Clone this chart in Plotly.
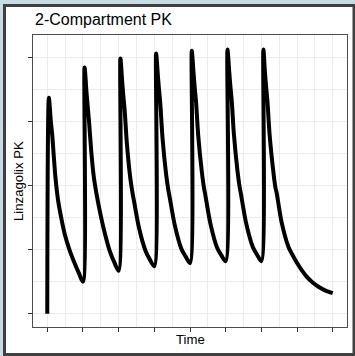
import plotly.graph_objects as go

# Simulated plasma concentration for seven once-daily doses followed by washout
time_days = [
    0.0, 0.045, 0.10, 0.14, 0.17, 0.23, 0.30, 0.39, 0.49, 0.62, 0.75, 0.88,
    1.0, 1.045, 1.10, 1.135, 1.17, 1.23, 1.30, 1.376, 1.48, 1.58, 1.75, 1.88,
    2.0, 2.05, 2.10, 2.135, 2.17, 2.23, 2.33, 2.39, 2.43, 2.57, 2.76, 2.88,
    3.0, 3.05, 3.10, 3.135, 3.17, 3.23, 3.33, 3.39, 3.43, 3.57, 3.76, 3.88,
    4.0, 4.05, 4.10, 4.135, 4.17, 4.23, 4.33, 4.39, 4.43, 4.57, 4.76, 4.88,
    5.0, 5.05, 5.10, 5.135, 5.17, 5.23, 5.33, 5.39, 5.43, 5.57, 5.76, 5.88,
    6.0, 6.056, 6.10, 6.135, 6.17, 6.23, 6.33, 6.39, 6.43, 6.57, 6.76, 6.88,
    7.0, 7.13, 7.275, 7.43, 7.60, 7.80, 8.0,
]
concentration = [
    0.0, 3.37, 3.00, 2.78, 2.55, 2.12, 1.78, 1.50, 1.24, 1.00, 0.81, 0.64,
    0.50, 3.84, 3.45, 3.22, 3.00, 2.55, 2.15, 1.88, 1.58, 1.33, 0.98, 0.80,
    0.67, 3.98, 3.62, 3.38, 3.17, 2.66, 2.10, 1.88, 1.76, 1.34, 0.97, 0.84,
    0.74, 4.06, 3.71, 3.48, 3.26, 2.74, 2.18, 1.94, 1.82, 1.39, 1.01, 0.89,
    0.79, 4.10, 3.75, 3.51, 3.30, 2.78, 2.22, 1.97, 1.85, 1.41, 1.03, 0.91,
    0.82, 4.12, 3.77, 3.53, 3.32, 2.80, 2.23, 1.98, 1.86, 1.42, 1.04, 0.92,
    0.82, 4.12, 3.77, 3.53, 3.32, 2.80, 2.24, 1.98, 1.88, 1.42, 1.04, 0.91,
    0.79, 0.68, 0.575, 0.49, 0.42, 0.36, 0.32,
]
x_ticks = [0, 1, 2, 3, 4, 5, 6, 7, 8]
y_ticks = [0, 1, 2, 3, 4]

FONT = "Liberation Sans, Arial, Helvetica, sans-serif"
GRID = "#ebebeb"

fig = go.Figure(
    go.Scatter(
        x=time_days,
        y=concentration,
        mode="lines",
        line=dict(color="black", width=4, shape="spline", smoothing=0.8),
        hoverinfo="skip",
    )
)

axis_common = dict(
    showticklabels=False,
    ticks="outside",
    ticklen=4,
    tickwidth=1,
    tickcolor="#333333",
    showgrid=True,
    gridcolor=GRID,
    gridwidth=1,
    zeroline=False,
    showline=True,
    linecolor="#4d4d4d",
    linewidth=1,
    mirror=True,
)

fig.update_xaxes(
    range=[-0.4, 8.4],
    tickmode="array",
    tickvals=x_ticks,
    minor=dict(dtick=0.5, tick0=0, showgrid=True, gridcolor=GRID, gridwidth=0.8, ticks=""),
    **axis_common,
)
fig.update_yaxes(
    range=[-0.207, 4.347],
    tickmode="array",
    tickvals=y_ticks,
    minor=dict(dtick=0.5, tick0=0, showgrid=True, gridcolor=GRID, gridwidth=0.8, ticks=""),
    **axis_common,
)

W, H = 355, 356
L, R, T, B = 33, 8, 35, 29
pw, ph = W - L - R, H - T - B


def px_to_paper_x(px):
    return (px - L) / pw


def px_to_paper_y(py):
    return (H - B - py) / ph


fig.update_layout(
    width=W,
    height=H,
    margin=dict(l=L, r=R, t=T, b=B, pad=0),
    paper_bgcolor="#c8dce5",
    plot_bgcolor="white",
    showlegend=False,
    font=dict(family=FONT, color="black"),
    shapes=[
        dict(
            type="rect",
            xref="paper",
            yref="paper",
            x0=px_to_paper_x(4.5),
            x1=px_to_paper_x(354),
            y0=px_to_paper_y(354.5),
            y1=px_to_paper_y(5.5),
            line=dict(color="#404040", width=3),
            fillcolor="white",
            layer="below",
        )
    ],
    annotations=[
        dict(
            text="2-Compartment PK",
            xref="paper", yref="paper",
            x=0, y=px_to_paper_y(20),
            xanchor="left", yanchor="middle",
            showarrow=False,
            font=dict(size=16, family=FONT, color="black"),
        ),
        dict(
            text="Time",
            xref="paper", yref="paper",
            x=0.5, y=px_to_paper_y(339),
            xanchor="center", yanchor="middle",
            showarrow=False,
            font=dict(size=13.2, family=FONT, color="black"),
        ),
        dict(
            text="Linzagolix PK",
            xref="paper", yref="paper",
            x=px_to_paper_x(18), y=0.5,
            xanchor="center", yanchor="middle",
            textangle=-90,
            showarrow=False,
            font=dict(size=13.2, family=FONT, color="black"),
        ),
    ],
)

fig.write_html("out.html")
